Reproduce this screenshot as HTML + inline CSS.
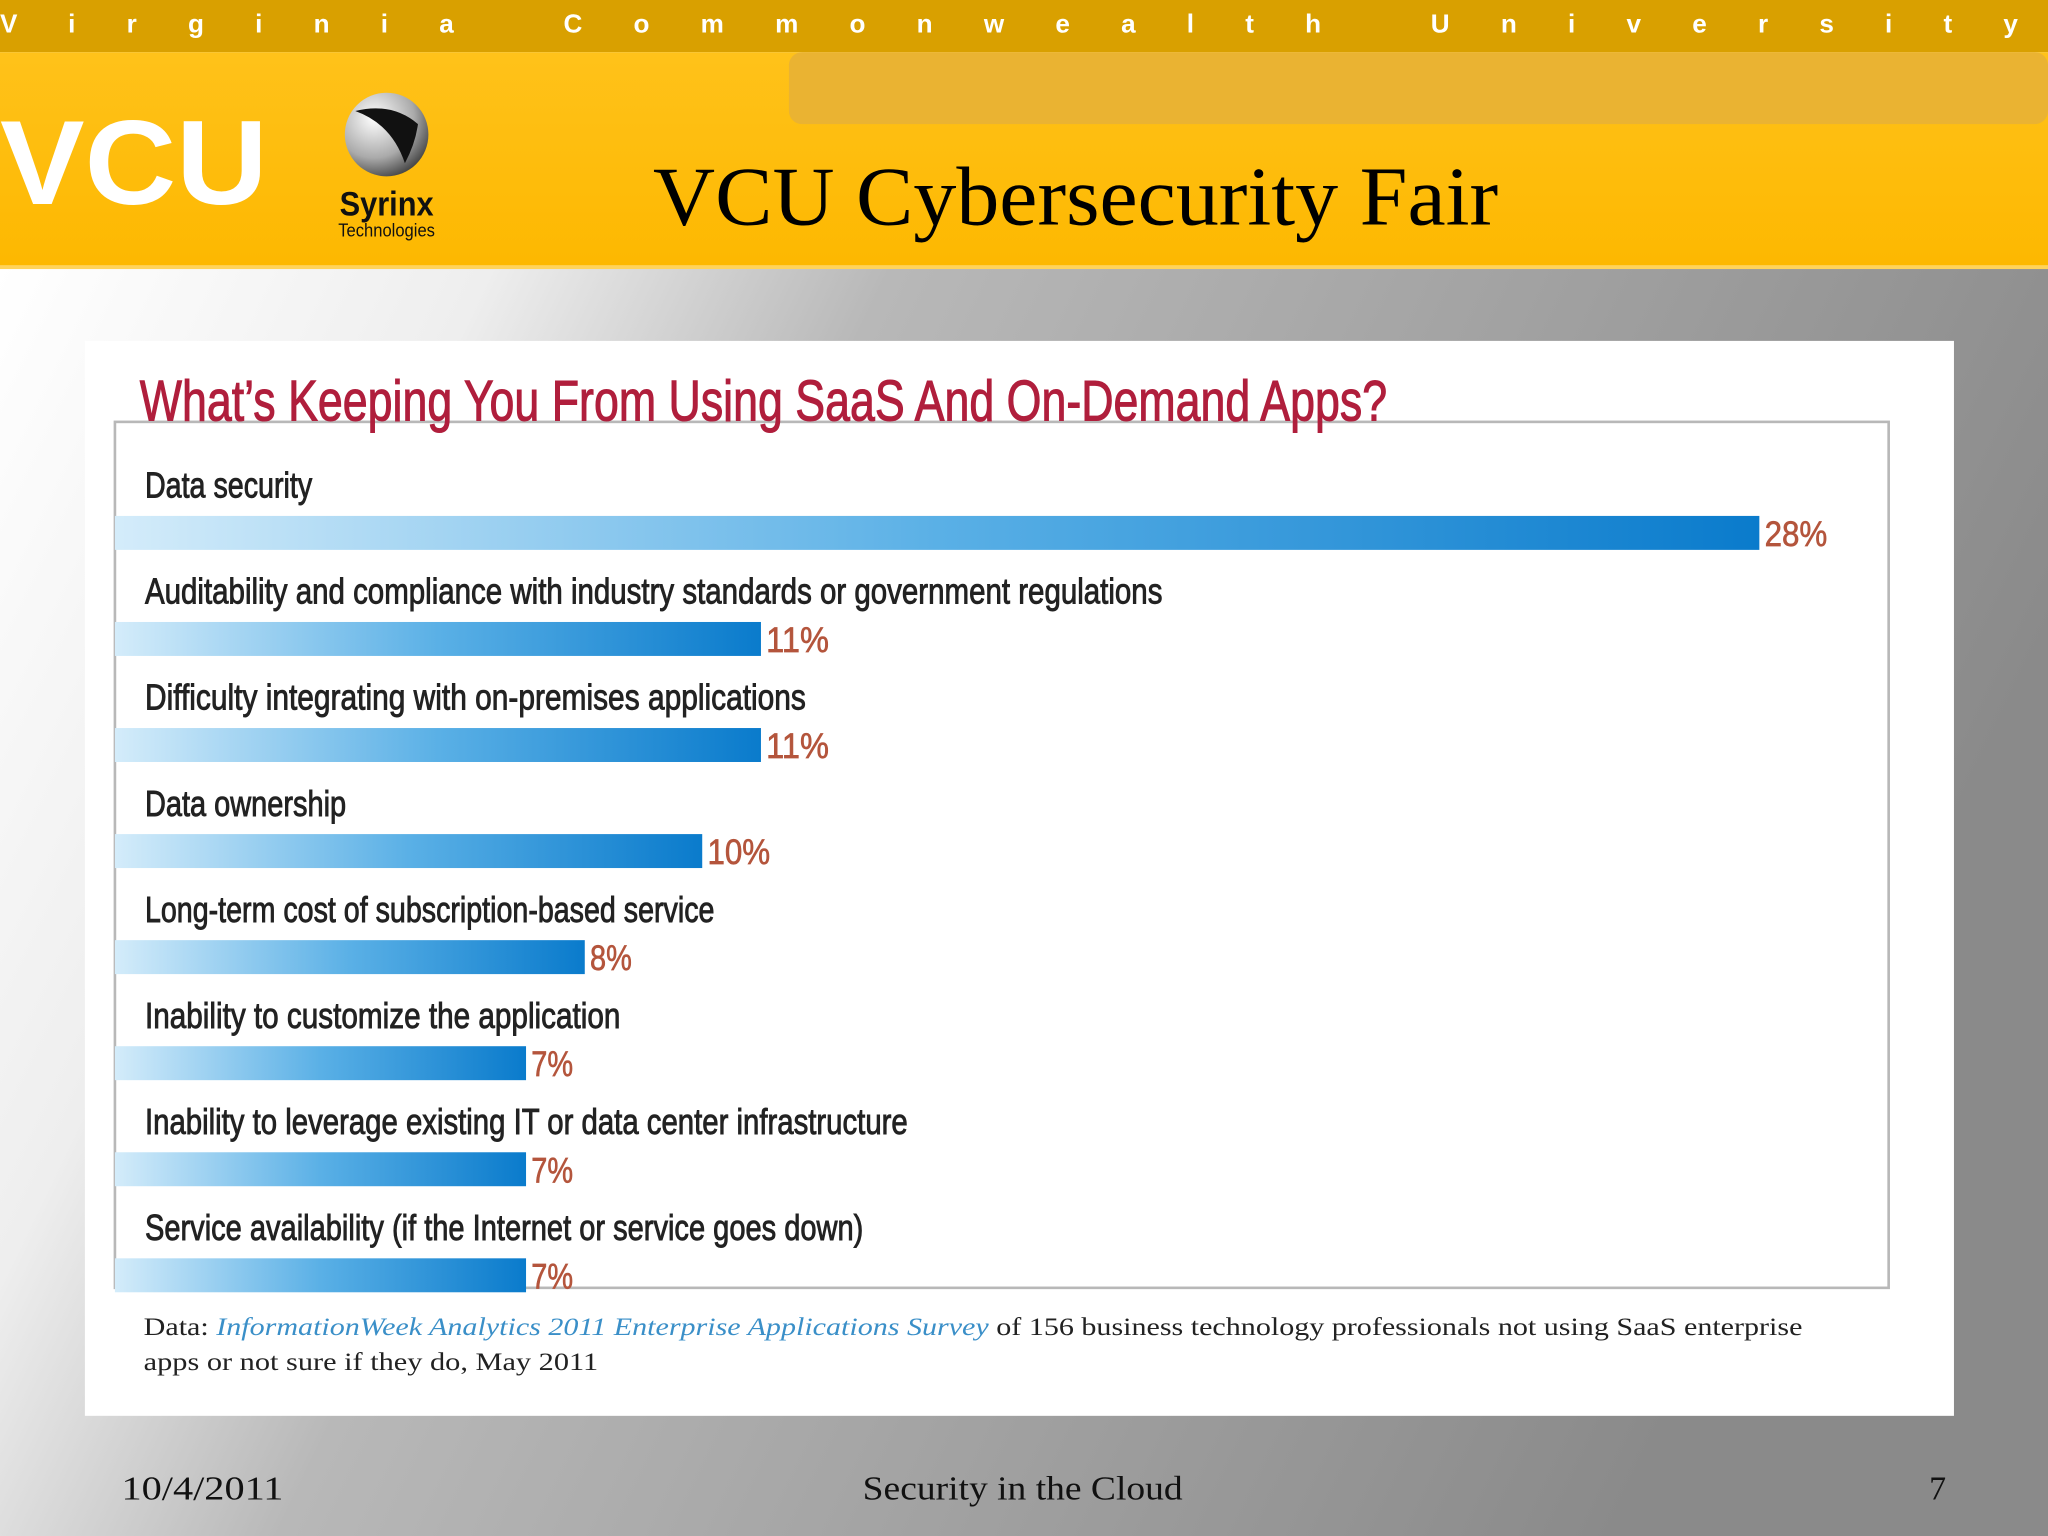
<!DOCTYPE html>
<html><head><meta charset="utf-8"><style>
html,body{margin:0;padding:0;width:2048px;height:1536px;overflow:hidden;background:#fff}
svg{display:block}
</style></head><body>
<svg width="2048" height="1536" viewBox="0 0 1568 1176" xmlns="http://www.w3.org/2000/svg">
<defs>
<linearGradient id="bg" x1="0" y1="0" x2="1" y2="0.3">
<stop offset="0" stop-color="#ffffff"/><stop offset="0.22" stop-color="#eeeeee"/><stop offset="0.4" stop-color="#b8b8b8"/><stop offset="1" stop-color="#8a8a8a"/></linearGradient>
<linearGradient id="hdr" x1="0" y1="0" x2="0" y2="1"><stop offset="0" stop-color="#ffc21a"/><stop offset="1" stop-color="#fdb800"/></linearGradient>
<linearGradient id="bar" x1="0" y1="0" x2="1" y2="0"><stop offset="0" stop-color="#d4ecfa"/><stop offset="0.5" stop-color="#5ab0e6"/><stop offset="1" stop-color="#0a7bcc"/></linearGradient>
<radialGradient id="sph" cx="0.35" cy="0.3" r="0.8"><stop offset="0" stop-color="#fff"/><stop offset="0.6" stop-color="#aaa"/><stop offset="1" stop-color="#333"/></radialGradient>
</defs>
<rect x="0" y="205" width="1568" height="971" fill="url(#bg)"/>
<rect x="0" y="0" width="1568" height="40" fill="#d9a000"/>
<text x="0" y="25" font-family="Liberation Sans, sans-serif" font-weight="bold" font-size="20" fill="#fff" textLength="1545" lengthAdjust="spacing">Virginia   Commonwealth   University</text>
<rect x="0" y="40" width="1568" height="165" fill="url(#hdr)"/>
<rect x="604" y="40" width="964" height="55" rx="10" fill="#eab332"/>
<rect x="0" y="203" width="1568" height="3" fill="#ffd35a"/>
<text x="0" y="156" font-family="Liberation Sans, sans-serif" font-weight="bold" font-size="92" fill="#fff" textLength="205" lengthAdjust="spacingAndGlyphs">VCU</text>
<g>
<circle cx="296" cy="103" r="32" fill="url(#sph)"/>
<path d="M272 85 Q300 95 310 125 Q318 110 320 95 Q300 78 272 85Z" fill="#111"/>
<text x="296" y="165" text-anchor="middle" font-family="Liberation Sans, sans-serif" font-weight="bold" font-size="26" fill="#111" textLength="72" lengthAdjust="spacingAndGlyphs">Syrinx</text>
<text x="296" y="181" text-anchor="middle" font-family="Liberation Sans, sans-serif" font-size="14" fill="#111" textLength="74" lengthAdjust="spacingAndGlyphs">Technologies</text>
</g>
<text x="500" y="172" font-family="Liberation Serif, serif" font-size="64" fill="#000" textLength="647" lengthAdjust="spacingAndGlyphs">VCU Cybersecurity Fair</text>
<rect x="65" y="261" width="1431" height="823" fill="#fff"/>
<rect x="88" y="323" width="1358" height="663" fill="none" stroke="#b8b8b8" stroke-width="2"/>
<text x="107" y="322" font-family="Liberation Sans, sans-serif" font-size="44" fill="#b01e3c" stroke="#b01e3c" stroke-width="0.8" textLength="955" lengthAdjust="spacingAndGlyphs">What’s Keeping You From Using SaaS And On-Demand Apps?</text>
<g id="bars"></g>
<text font-family="Liberation Serif, serif" font-size="19" fill="#222"><tspan x="110" y="1022" textLength="1270" lengthAdjust="spacingAndGlyphs">Data: <tspan fill="#3a8fc8" font-style="italic">InformationWeek Analytics 2011 Enterprise Applications Survey</tspan> of 156 business technology professionals not using SaaS enterprise</tspan><tspan x="110" y="1049" textLength="348" lengthAdjust="spacingAndGlyphs">apps or not sure if they do, May 2011</tspan></text>
<text x="93" y="1148" font-family="Liberation Serif, serif" font-size="26" fill="#111" textLength="124" lengthAdjust="spacingAndGlyphs">10/4/2011</text>
<text x="783" y="1148" text-anchor="middle" font-family="Liberation Serif, serif" font-size="26" fill="#111" textLength="245" lengthAdjust="spacingAndGlyphs">Security in the Cloud</text>
<text x="1490" y="1148" text-anchor="end" font-family="Liberation Serif, serif" font-size="26" fill="#111">7</text>
</svg>
<script>
const categories = ["Data security","Auditability and compliance with industry standards or government regulations","Difficulty integrating with on-premises applications","Data ownership","Long-term cost of subscription-based service","Inability to customize the application","Inability to leverage existing IT or data center infrastructure","Service availability (if the Internet or service goes down)"];
const values = [28,11,11,10,8,7,7,7];
const valueLabels = ["28%","11%","11%","10%","8%","7%","7%","7%"];
const labelWidths = [128,779,506,154,436,364,584,550];
const NS="http://www.w3.org/2000/svg";
const x0=88, pxPer=(1347-88)/28;
const xScale=v=>x0+v*pxPer;
const rowY=i=>395+i*81.2;
const g=document.getElementById('bars');
categories.forEach((c,i)=>{
  const y=rowY(i);
  const t=document.createElementNS(NS,'text');
  
  
  t.setAttribute('x',111);t.setAttribute('y',y-14);
  t.setAttribute('font-family','Liberation Sans, sans-serif');t.setAttribute('font-size','28');t.setAttribute('fill','#222');
  t.setAttribute('stroke','#222');t.setAttribute('stroke-width','0.7');
  t.setAttribute('textLength',labelWidths[i]);t.setAttribute('lengthAdjust','spacingAndGlyphs');
  t.textContent=c;g.appendChild(t);
  const r=document.createElementNS(NS,'rect');
  
  
  r.setAttribute('x',x0);r.setAttribute('y',y);r.setAttribute('width',xScale(values[i])-x0);r.setAttribute('height',26);
  r.setAttribute('fill','url(#bar)');g.appendChild(r);
  const v=document.createElementNS(NS,'text');
  
  
  v.setAttribute('x',xScale(values[i])+4);v.setAttribute('y',y+23);
  v.setAttribute('font-family','Liberation Sans, sans-serif');v.setAttribute('font-size','27');v.setAttribute('fill','#b4553c');
  v.setAttribute('stroke','#b4553c');v.setAttribute('stroke-width','0.5');
  v.setAttribute('textLength',valueLabels[i].length*16);v.setAttribute('lengthAdjust','spacingAndGlyphs');
  v.textContent=valueLabels[i];g.appendChild(v);
});
</script>
</body></html>
